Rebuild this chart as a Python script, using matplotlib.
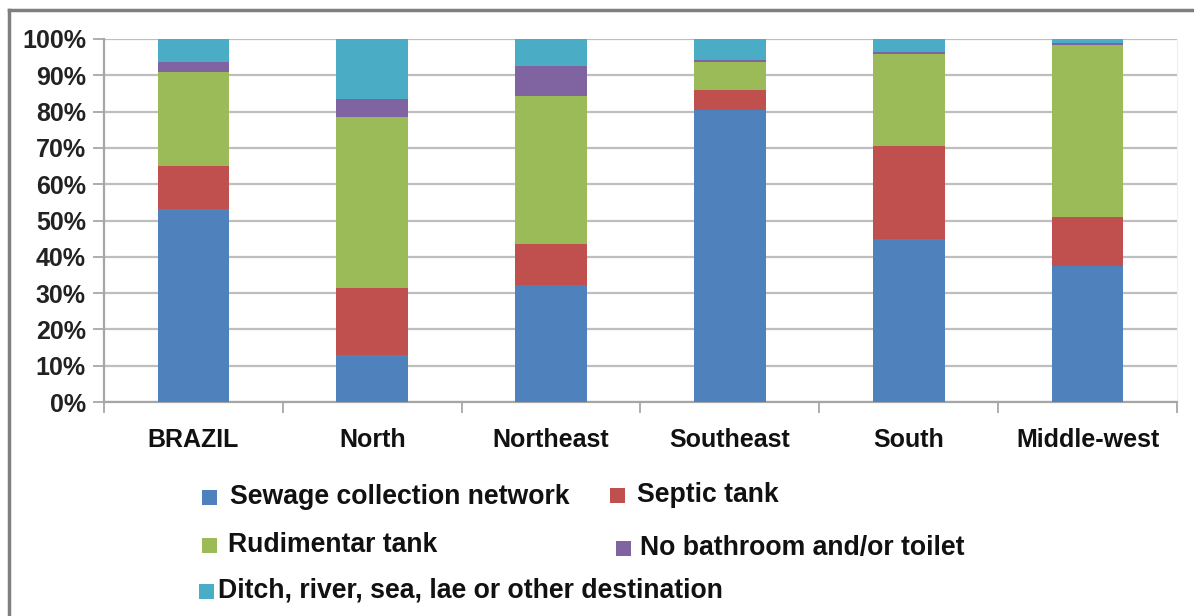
import matplotlib.pyplot as plt
import matplotlib.patches as mpatches
import numpy as np

# Share of households by sewage destination, per region (%)
regions = ["BRAZIL", "North", "Northeast", "Southeast", "South", "Middle-west"]
sewage_network = [53.3, 12.9, 32.2, 80.4, 44.9, 37.5]
septic_tank = [11.7, 18.6, 11.3, 5.5, 25.6, 13.4]
rudimentar_tank = [25.8, 47.1, 40.7, 7.9, 25.4, 47.4]
no_bathroom = [2.9, 4.9, 8.4, 0.4, 0.6, 0.5]
other_destination = [6.3, 16.5, 7.4, 5.8, 3.5, 1.2]

series = [
    ("Sewage collection network", sewage_network, "#4F81BD"),
    ("Septic tank", septic_tank, "#C0504D"),
    ("Rudimentar tank", rudimentar_tank, "#9BBB59"),
    ("No bathroom and/or toilet", no_bathroom, "#8064A2"),
    ("Ditch, river, sea, lae or other destination", other_destination, "#4BACC6"),
]

plt.rcParams['font.family'] = ['Liberation Sans', 'DejaVu Sans']

W, H = 1194, 616
fig = plt.figure(figsize=(W / 100, H / 100), dpi=100)
ax = fig.add_axes([104 / W, 1 - 402 / H, (1177 - 104) / W, (402 - 39) / H])

x = np.arange(len(regions))
bottom = np.zeros(len(regions))
for name, vals, color in series:
    ax.bar(x, vals, width=0.4, bottom=bottom, color=color, label=name,
           edgecolor="none", zorder=3)
    bottom += np.array(vals)

ax.set_xlim(-0.5, len(regions) - 0.5)
ax.set_ylim(0, 100)
ax.set_yticks(np.arange(0, 101, 10))
ax.set_yticklabels([f"{v}%" for v in range(0, 101, 10)],
                   fontsize=18, fontweight="bold", color="#222222")
ax.yaxis.grid(True, color="#BEBEBE", linewidth=1.6, zorder=0)

# category boundaries carry the tick marks, names sit in between
ax.set_xticks(np.arange(-0.5, len(regions), 1.0))
ax.set_xticklabels([])
ax.set_xticks(x, minor=True)
ax.set_xticklabels(regions, minor=True, fontsize=18, fontweight="bold",
                   color="#111111")
ax.tick_params(axis="x", which="major", length=8, color="#A0A0A0", width=1.2)
ax.tick_params(axis="x", which="minor", length=0, pad=19)
ax.tick_params(axis="y", length=8, color="#A0A0A0", width=1.2, pad=5)

for side in ["left", "bottom"]:
    ax.spines[side].set_color("#A6A6A6")
    ax.spines[side].set_linewidth(1.6)
ax.spines["top"].set_visible(False)
ax.spines["right"].set_color("#EEEEEE")

# legend laid out by hand in pixel positions
legend_items = [
    (0, 202, 230, 497),
    (1, 610, 637, 495),
    (2, 202, 228, 545),
    (3, 616, 640, 548),
    (4, 199, 218, 591),
]
for idx, sx, tx, cy in legend_items:
    name, _, color = series[idx]
    sq = 15
    fig.patches.append(mpatches.Rectangle(
        (sx / W, 1 - (cy + sq / 2) / H), sq / W, sq / H,
        transform=fig.transFigure, facecolor=color, edgecolor="none"))
    fig.text(tx / W, 1 - cy / H, name, fontsize=19.2, fontweight="bold",
             color="#111111", va="center", ha="left")

# outer frame
fig.add_artist(plt.Line2D([9 / W, 9 / W], [0, 1 - 10 / H],
                          transform=fig.transFigure, color="#7F7F7F", lw=2.5))
fig.add_artist(plt.Line2D([9 / W, 1], [1 - 10 / H, 1 - 10 / H],
                          transform=fig.transFigure, color="#7F7F7F", lw=2.5))

fig.savefig("out.png", dpi=100)
